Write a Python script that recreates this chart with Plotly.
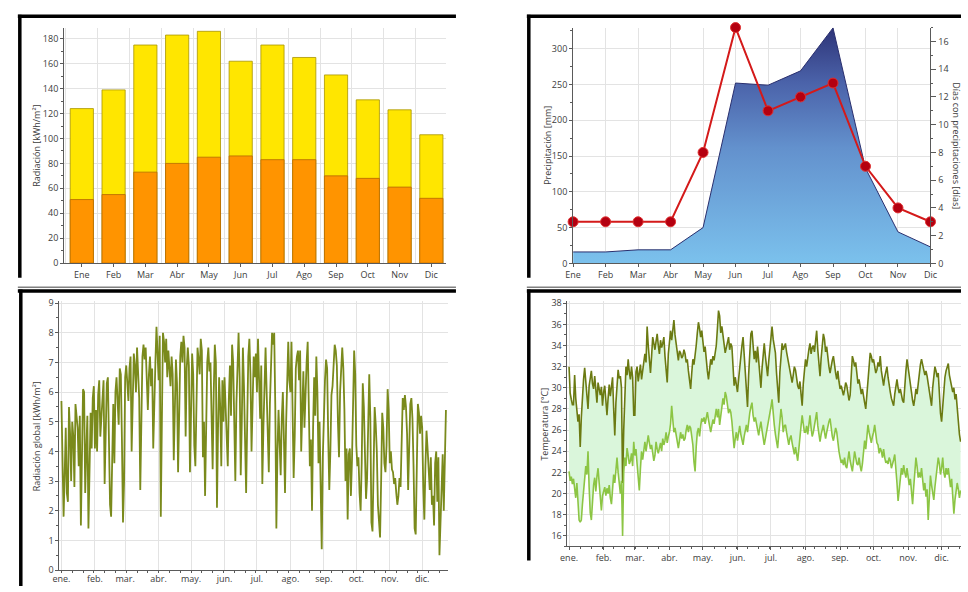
import plotly.graph_objects as go

# ---------------- data ----------------
months_short = ['Ene', 'Feb', 'Mar', 'Abr', 'May', 'Jun', 'Jul', 'Ago', 'Sep', 'Oct', 'Nov', 'Dic']
months_daily = ['ene.', 'feb.', 'mar.', 'abr.', 'may.', 'jun.', 'jul.', 'ago.', 'sep.', 'oct.', 'nov.', 'dic.']
month_start_days = [0, 31, 59, 90, 120, 151, 181, 212, 243, 273, 304, 334]

rad_global = [124, 139, 175, 183, 186, 162, 175, 165, 151, 131, 123, 103]
rad_diffuse = [51, 55, 73, 80, 85, 86, 83, 83, 70, 68, 61, 52]

precip_mm = [16, 16, 19, 19, 50, 252, 249, 269, 329, 133, 44, 23]
precip_days = [3, 3, 3, 3, 8, 17, 11, 12, 13, 7, 4, 3]

# daily global radiation [kWh/m2], by month
rad_jan = [5.7, 4.2, 1.8, 3.2, 4.8, 2.6, 2.3, 5.5, 4.6, 3.0, 5.0, 4.5, 2.8, 5.6, 5.3, 4.8, 3.5, 5.2, 1.5, 4.4,
           6.1, 6.0, 2.6, 4.0, 5.2, 1.4, 4.3, 5.3, 4.1, 5.8, 6.2]
rad_feb = [4.1, 5.4, 4.0, 5.9, 6.4, 4.5, 5.2, 6.0, 6.4, 2.9, 4.8, 6.3, 6.5, 4.2, 2.2, 1.8, 4.0, 5.6, 3.6, 6.0,
           6.5, 5.3, 4.9, 6.8, 6.6, 4.4, 1.6, 3.0]
rad_mar = [6.5, 6.9, 6.2, 5.7, 6.8, 7.2, 4.0, 6.4, 7.3, 6.9, 6.0, 7.5, 6.6, 5.8, 2.7, 4.8, 7.2, 7.6, 7.1, 7.5,
           6.0, 5.4, 6.6, 7.2, 6.2, 6.8, 4.1, 6.3, 7.0, 8.2, 7.4]
rad_apr = [6.4, 7.9, 1.8, 5.0, 8.0, 7.7, 7.0, 7.8, 6.5, 7.4, 6.9, 6.2, 7.2, 6.6, 3.7, 5.5, 7.1, 6.3, 3.3, 5.2,
           7.2, 7.7, 7.0, 7.9, 7.5, 4.5, 6.8, 7.5, 6.9, 3.3]
rad_may = [5.5, 7.3, 6.6, 4.2, 3.5, 6.1, 7.5, 7.1, 6.6, 7.8, 7.4, 3.8, 5.0, 2.5, 4.6, 7.0, 7.5, 6.7, 7.0, 5.5,
           3.4, 6.0, 7.6, 7.0, 2.1, 4.8, 6.5, 5.5, 3.5, 6.4, 5.0]
rad_jun = [6.5, 5.5, 4.0, 3.5, 5.8, 6.9, 5.2, 7.6, 7.0, 4.4, 3.0, 5.6, 7.0, 8.0, 6.5, 3.2, 5.0, 7.5, 6.2, 3.8,
           2.6, 5.0, 7.2, 7.8, 6.6, 4.0, 5.9, 7.2, 6.5, 7.3]
rad_jul = [6.0, 7.8, 6.4, 5.1, 6.9, 2.9, 4.8, 6.3, 7.5, 6.0, 4.1, 3.3, 5.6, 7.2, 8.0, 7.6, 8.0, 5.5, 1.4, 4.0,
           5.4, 4.3, 3.2, 5.1, 6.0, 4.4, 2.6, 4.9, 6.8, 7.7, 6.4]
rad_aug = [6.0, 7.7, 5.4, 3.1, 4.5, 6.8, 7.2, 7.4, 6.4, 7.4, 4.0, 5.6, 6.7, 4.8, 6.2, 7.0, 7.7, 6.1, 3.5, 4.4,
           2.0, 4.8, 6.5, 5.2, 7.2, 6.0, 3.6, 5.0, 2.5, 0.7, 3.8]
rad_sep = [5.5, 6.4, 7.1, 6.8, 4.5, 2.7, 4.0, 5.9, 6.2, 7.0, 7.6, 7.4, 6.9, 5.0, 3.8, 6.0, 7.1, 7.5, 6.8, 5.4,
           3.0, 4.1, 1.7, 3.9, 4.1, 2.5, 3.7, 5.2, 7.4, 6.6]
rad_oct = [4.2, 3.5, 3.8, 2.6, 2.0, 3.6, 6.3, 5.5, 3.9, 2.4, 3.1, 4.6, 6.6, 5.1, 1.6, 1.3, 3.6, 5.5, 4.9, 4.0,
           2.2, 1.5, 1.1, 3.0, 5.3, 4.8, 3.6, 3.3, 4.2, 6.1, 5.4]
rad_nov = [3.6, 4.0, 3.4, 3.3, 2.9, 3.1, 2.6, 2.2, 2.5, 3.1, 2.8, 4.2, 5.8, 5.4, 5.9, 5.5, 4.6, 2.7, 4.8, 5.6,
           5.8, 5.1, 3.5, 1.4, 1.2, 3.8, 5.6, 5.3, 4.6, 5.2]
rad_dec = [4.8, 2.8, 1.7, 3.5, 4.7, 4.1, 3.2, 2.7, 3.8, 2.2, 2.5, 1.5, 3.6, 4.0, 2.3, 3.8, 0.5, 1.8, 2.6, 3.9,
           2.0, 4.1, 5.4]

# daily maximum temperature [°C], by month
tmax_jan = [32.0, 29.5, 28.9, 28.4, 28.4, 31.2, 29.0, 27.8, 26.8, 27.5, 24.4, 27.2, 29.5, 30.8, 31.9, 30.6,
            29.4, 28.0, 30.2, 31.0, 31.6, 30.4, 29.9, 31.1, 30.0, 28.6, 30.5, 29.8, 29.3, 30.1, 28.3]
tmax_feb = [29.6, 30.2, 28.8, 27.4, 29.0, 30.3, 29.2, 30.0, 31.0, 28.0, 25.5, 28.6, 30.4, 31.7, 30.9, 31.1,
            30.0, 21.0, 26.0, 29.5, 32.0, 31.2, 32.7, 31.5, 30.8, 32.0, 31.0, 27.4]
tmax_mar = [27.4, 31.5, 32.0, 30.6, 31.4, 32.2, 30.8, 31.6, 32.7, 33.2, 32.4, 35.8, 34.0, 32.5, 31.4, 33.0,
            34.8, 34.2, 33.6, 34.4, 35.1, 34.0, 33.2, 34.5, 33.8, 34.2, 34.8, 33.0, 31.8, 30.5, 33.2]
tmax_apr = [34.6, 35.4, 34.5, 35.6, 36.4, 35.0, 34.2, 33.6, 32.6, 33.5, 33.3, 32.8, 33.0, 33.6, 33.2, 32.4,
            32.7, 31.6, 30.8, 29.9, 31.4, 32.7, 32.2, 33.0, 34.0, 35.2, 36.2, 35.6, 34.8, 35.4]
tmax_may = [34.6, 33.4, 33.9, 32.4, 31.6, 30.8, 31.8, 32.7, 32.2, 33.0, 32.6, 33.3, 34.0, 35.6, 37.3, 36.8,
            35.2, 35.8, 34.8, 34.0, 33.3, 33.8, 34.4, 34.8, 33.6, 34.2, 33.9, 32.0, 30.2, 31.0, 30.4]
tmax_jun = [29.6, 30.8, 32.0, 33.2, 34.0, 34.8, 33.0, 31.4, 30.2, 28.2, 31.2, 33.4, 35.1, 35.4, 34.0, 32.7,
            33.5, 32.4, 33.9, 32.6, 30.6, 30.0, 31.8, 33.0, 34.2, 33.0, 32.2, 31.1, 32.5, 33.6]
tmax_jul = [34.5, 35.8, 34.6, 34.0, 33.3, 31.4, 30.0, 28.6, 31.5, 33.2, 34.2, 33.6, 34.0, 34.2, 33.4, 32.8,
            32.3, 31.6, 30.8, 30.5, 31.2, 32.0, 31.7, 30.8, 30.2, 29.9, 30.6, 29.4, 28.3, 30.4, 31.6]
tmax_aug = [32.7, 32.0, 33.0, 33.6, 34.2, 33.2, 33.8, 34.0, 33.4, 34.6, 35.4, 33.6, 32.0, 31.1, 32.8, 34.0,
            35.1, 34.6, 33.4, 33.9, 32.6, 32.0, 31.4, 32.2, 32.6, 33.0, 32.0, 31.4, 30.8, 31.6, 30.6]
tmax_sep = [29.9, 30.2, 29.6, 29.3, 29.8, 30.5, 30.2, 29.4, 28.8, 29.3, 31.0, 33.0, 32.6, 32.0, 32.4, 31.6,
            30.4, 30.8, 30.2, 29.4, 29.9, 29.0, 28.6, 28.0, 29.4, 31.2, 32.6, 33.3, 33.0, 32.4]
tmax_oct = [32.7, 32.2, 31.4, 31.7, 32.4, 32.0, 33.0, 31.6, 30.8, 30.2, 31.0, 31.6, 32.0, 31.0, 30.0, 29.6,
            29.0, 28.6, 28.3, 29.4, 30.2, 30.8, 30.0, 29.5, 29.9, 29.2, 28.8, 28.6, 30.4, 31.6, 32.7]
tmax_nov = [31.8, 30.8, 30.2, 29.6, 28.8, 28.3, 29.0, 29.9, 29.4, 30.6, 31.4, 32.2, 32.7, 32.0, 31.7, 31.2,
            31.6, 31.1, 30.4, 29.6, 28.9, 28.3, 30.0, 31.2, 32.0, 31.6, 31.0, 31.4, 29.4, 27.6]
tmax_dec = [26.8, 28.6, 30.4, 31.0, 31.6, 32.0, 32.3, 31.2, 30.6, 30.2, 29.6, 30.0, 28.9, 29.4, 28.0, 26.8,
            25.6, 24.9]

# daily minimum temperature [°C], by month
tmin_jan = [22.1, 21.2, 21.6, 20.9, 21.4, 20.3, 19.6, 21.0, 18.6, 17.5, 17.3, 17.5, 19.0, 20.4, 21.5, 22.6,
            21.8, 24.0, 20.6, 18.2, 17.5, 19.4, 20.8, 21.5, 20.2, 21.6, 22.4, 21.0, 19.6, 18.4, 19.8]
tmin_feb = [20.4, 20.6, 19.8, 20.5, 20.0, 20.8, 19.6, 19.0, 20.4, 21.8, 21.0, 22.2, 23.4, 22.0, 21.0, 20.0,
            21.2, 16.0, 22.0, 23.4, 22.6, 24.3, 23.6, 22.8, 23.1, 23.8, 22.6, 24.9]
tmin_mar = [23.6, 24.2, 22.8, 21.6, 20.3, 22.4, 24.0, 23.2, 24.2, 24.9, 24.0, 25.0, 25.5, 24.8, 24.2, 24.6,
            23.8, 23.1, 23.6, 24.9, 24.2, 23.8, 24.3, 24.8, 24.0, 25.2, 24.6, 25.0, 25.8, 24.8, 25.4]
tmin_apr = [25.8, 26.6, 28.3, 27.0, 25.8, 26.2, 25.6, 24.8, 24.3, 25.0, 25.8, 25.2, 25.6, 25.0, 25.2, 26.0,
            26.5, 25.8, 26.4, 26.2, 25.4, 24.6, 23.0, 22.1, 24.4, 25.8, 26.2, 25.4, 26.4, 27.1]
tmin_may = [26.8, 27.2, 26.6, 27.4, 27.7, 27.0, 26.2, 25.8, 26.4, 27.0, 26.6, 27.4, 28.0, 27.2, 28.0, 26.5,
            27.2, 28.2, 29.0, 28.4, 29.6, 29.2, 28.4, 27.6, 28.0, 27.7, 26.8, 25.6, 24.3, 25.2, 25.8]
tmin_jun = [25.0, 25.8, 26.4, 25.6, 25.2, 24.6, 25.4, 26.0, 26.5, 25.8, 27.0, 27.6, 28.2, 28.6, 27.4, 26.8,
            27.2, 26.5, 25.8, 25.5, 26.2, 26.8, 26.0, 25.4, 24.6, 25.2, 25.8, 26.0, 27.0, 27.6]
tmin_jul = [28.2, 28.9, 27.4, 26.5, 25.6, 24.8, 24.3, 25.6, 27.0, 28.0, 27.2, 25.8, 26.4, 26.5, 25.8, 25.0,
            24.6, 25.2, 25.5, 24.8, 24.2, 23.7, 24.4, 23.6, 23.1, 24.2, 25.8, 26.4, 27.4, 26.6, 25.8]
tmin_aug = [25.8, 26.4, 25.6, 26.8, 27.4, 26.2, 25.4, 25.8, 26.6, 27.0, 27.7, 26.4, 25.6, 24.9, 25.6, 26.2,
            26.5, 25.8, 25.2, 25.8, 26.4, 26.8, 27.1, 26.0, 25.4, 25.0, 25.6, 26.2, 25.8, 24.6, 24.0]
tmin_sep = [23.4, 22.9, 23.2, 22.7, 23.4, 22.6, 22.4, 23.2, 24.0, 23.1, 22.6, 22.1, 23.0, 24.0, 23.4, 22.8,
            22.7, 23.4, 22.6, 22.1, 22.8, 24.0, 25.0, 24.2, 25.6, 26.5, 25.8, 25.4, 24.8, 25.4]
tmin_oct = [25.8, 26.5, 25.6, 24.8, 24.6, 23.8, 24.3, 24.0, 23.4, 24.2, 23.4, 22.9, 23.1, 22.8, 23.4, 23.1,
            22.4, 22.7, 23.2, 23.7, 22.6, 21.0, 19.3, 20.6, 21.5, 22.4, 21.8, 22.7, 22.0, 21.5, 22.4]
tmin_nov = [21.5, 20.8, 21.4, 20.2, 19.0, 20.6, 22.2, 23.4, 22.6, 21.5, 22.0, 21.5, 22.4, 21.6, 20.3, 21.0,
            19.7, 20.4, 17.5, 19.6, 21.7, 20.8, 20.0, 19.4, 20.6, 21.8, 22.6, 23.4, 22.8, 21.8]
tmin_dec = [22.4, 23.4, 22.0, 21.5, 22.4, 21.8, 22.4, 21.2, 20.6, 21.4, 20.0, 18.1, 19.4, 20.3, 21.0, 20.4,
            19.6, 20.3]

rad_daily = (rad_jan + rad_feb + rad_mar + rad_apr + rad_may + rad_jun + rad_jul + rad_aug + rad_sep
             + rad_oct + rad_nov + rad_dec)
tmax_daily = (tmax_jan + tmax_feb + tmax_mar + tmax_apr + tmax_may + tmax_jun + tmax_jul + tmax_aug
              + tmax_sep + tmax_oct + tmax_nov + tmax_dec)
tmin_daily = (tmin_jan + tmin_feb + tmin_mar + tmin_apr + tmin_may + tmin_jun + tmin_jul + tmin_aug
              + tmin_sep + tmin_oct + tmin_nov + tmin_dec)

# ---------------- figure ----------------
W, H = 968, 592
FONT = 'Open Sans, DejaVu Sans, sans-serif'
TICKC = '#3c3c3c'
GRID = '#e3e3e3'
AXC = '#5a5a5a'


def px_x(x):
    return x / W


def px_y(y):
    return 1 - y / H


month_idx = list(range(12))

fig = go.Figure()

# Panel 1: monthly radiation
fig.add_trace(go.Bar(x=month_idx, y=rad_global, width=0.73,
                     marker=dict(color='#FFE600', line=dict(color='#a89400', width=0.8)),
                     xaxis='x', yaxis='y'))
fig.add_trace(go.Bar(x=month_idx, y=rad_diffuse, width=0.73,
                     marker=dict(color='#FF9400', line=dict(color='#b56800', width=0.8)),
                     xaxis='x', yaxis='y'))

# Panel 2: precipitation
fig.add_trace(go.Scatter(x=month_idx, y=precip_mm, mode='lines', fill='tozeroy',
                         line=dict(color='#2a2f6e', width=1),
                         fillgradient=dict(type='vertical', start=0, stop=max(precip_mm),
                                           colorscale=[[0, '#7cc3ee'], [0.5, '#6391cd'],
                                                       [0.77, '#4b63aa'], [1, '#2e3478']]),
                         xaxis='x2', yaxis='y2'))
fig.add_trace(go.Scatter(x=month_idx, y=precip_days, mode='lines+markers', cliponaxis=False,
                         line=dict(color='#d41a1a', width=2),
                         marker=dict(size=10, color='#b40010', line=dict(color='#e03030', width=1)),
                         xaxis='x2', yaxis='y3'))

# Panel 3: daily global radiation
fig.add_trace(go.Scatter(x=list(range(len(rad_daily))), y=rad_daily, mode='lines',
                         line=dict(color='#7a8a1c', width=1.8),
                         xaxis='x3', yaxis='y4'))

# Panel 4: daily temperature
fig.add_trace(go.Scatter(x=list(range(len(tmax_daily))), y=tmax_daily, mode='lines',
                         line=dict(color='#6b7a12', width=1.6),
                         xaxis='x4', yaxis='y5'))
fig.add_trace(go.Scatter(x=list(range(len(tmin_daily))), y=tmin_daily, mode='lines',
                         line=dict(color='#8cc544', width=1.6),
                         fill='tonexty', fillcolor='#daf6db',
                         xaxis='x4', yaxis='y5'))

tickfont = dict(family=FONT, size=9, color=TICKC)
common_y = dict(showline=True, linecolor=AXC, linewidth=1, ticks='outside', ticklen=3,
                tickcolor=AXC, tickfont=tickfont, gridcolor=GRID, zeroline=False, fixedrange=True)
common_x = dict(showline=True, linecolor=AXC, linewidth=1, ticks='outside', ticklen=3,
                tickcolor=AXC, tickfont=tickfont, gridcolor=GRID, zeroline=False, fixedrange=True)

fig.update_layout(
    width=W, height=H, autosize=False,
    margin=dict(l=0, r=0, t=0, b=0, pad=0),
    paper_bgcolor='white', plot_bgcolor='white',
    showlegend=False, barmode='overlay',
    font=dict(family=FONT, size=9, color=TICKC),
    xaxis=dict(common_x, domain=[px_x(57), px_x(445)], anchor='y', range=[-0.557, 11.464],
               tickvals=month_idx, ticktext=months_short, showgrid=False,
               minor=dict(tickvals=[i + 0.5 for i in range(-1, 12)], showgrid=True, gridcolor=GRID,
                          ticks='')),
    yaxis=dict(common_y, domain=[px_y(263), px_y(23)], anchor='x', range=[0, 189], dtick=20,
               minor=dict(dtick=10, ticks='outside', ticklen=2, tickcolor=AXC)),
    xaxis2=dict(common_x, domain=[px_x(574), px_x(937)], anchor='y2', range=[0, 11],
                tickvals=month_idx, ticktext=months_short, showgrid=True),
    yaxis2=dict(common_y, domain=[px_y(263.3), px_y(23)], anchor='x2', range=[0, 329.5], dtick=50,
                minor=dict(dtick=25, ticks='outside', ticklen=2, tickcolor=AXC)),
    yaxis3=dict(common_y, overlaying='y2', side='right', anchor='x2', range=[0, 17], dtick=2,
                showgrid=False, ticklen=5,
                minor=dict(dtick=1, ticks='outside', ticklen=2, tickcolor=AXC)),
    xaxis3=dict(common_x, domain=[px_x(52.3), px_x(446.7)], anchor='y4', range=[-1.8, 357.7],
                tickvals=month_start_days, ticktext=months_daily, showgrid=True, ticks='',
                minor=dict(dtick=10, tick0=0, ticks='outside', ticklen=2, tickcolor=AXC, showgrid=False)),
    yaxis4=dict(common_y, domain=[px_y(575.7), px_y(301.7)], anchor='x3', range=[0, 9.07], dtick=1,
                minor=dict(dtick=0.5, ticks='outside', ticklen=2, tickcolor=AXC)),
    xaxis4=dict(common_x, domain=[px_x(568.3), 1.0], anchor='y5', range=[-1.4, 351.4],
                tickvals=month_start_days, ticktext=months_daily, showgrid=True,
                minor=dict(dtick=10, tick0=0, ticks='outside', ticklen=2, tickcolor=AXC, showgrid=False)),
    yaxis5=dict(common_y, domain=[px_y(551.7), px_y(301.7)], anchor='x4', range=[15, 38.2], dtick=2,
                minor=dict(dtick=1, ticks='outside', ticklen=2, tickcolor=AXC)),
)

# panel frames (thick black top/left edges, thin grey bottoms)
shapes = []


def hline(x0, x1, y, width, color):
    shapes.append(dict(type='line', xref='paper', yref='paper', x0=px_x(x0), x1=px_x(x1),
                       y0=px_y(y), y1=px_y(y), line=dict(color=color, width=width)))


def vline(x, y0, y1, width, color):
    shapes.append(dict(type='line', xref='paper', yref='paper', x0=px_x(x), x1=px_x(x),
                       y0=px_y(y0), y1=px_y(y1), line=dict(color=color, width=width)))


hline(10, 455, 11.5, 3.5, '#000000')
vline(12, 10, 278, 3.5, '#000000')
hline(10, 455, 287.5, 1.5, '#808080')
hline(527, 968, 11.5, 3.5, '#000000')
vline(529, 10, 278, 3.5, '#000000')
hline(527, 968, 287.5, 1.5, '#808080')
hline(10, 455, 291.5, 3.5, '#000000')
vline(13, 290, 592, 3.5, '#000000')
hline(527, 968, 291.5, 3.5, '#000000')
vline(529, 290, 566, 3.5, '#000000')
fig.update_layout(shapes=shapes)

# axis titles
titles = [
    ('Radiación [kWh/m²]', 29, 144, -90),
    ('Precipitación [mm]', 548, 143, -90),
    ('Días con precipitaciones [días]', 964, 143, 90),
    ('Radiación global [kWh/m²]', 29, 440, -90),
    ('Temperatura [°C]', 545, 427, -90),
]
for text, x, y, ang in titles:
    fig.add_annotation(text=text, x=px_x(x), y=px_y(y), xref='paper', yref='paper',
                       showarrow=False, textangle=ang, xanchor='center', yanchor='middle',
                       font=dict(family=FONT, size=9, color='#3c3c3c'))

# the page body gets no default margin, so the 968x592 figure fills the window exactly
fig.write_html('out.html', config={'displayModeBar': False},
               post_script="document.body.style.margin='0';document.body.style.overflow='hidden';")
